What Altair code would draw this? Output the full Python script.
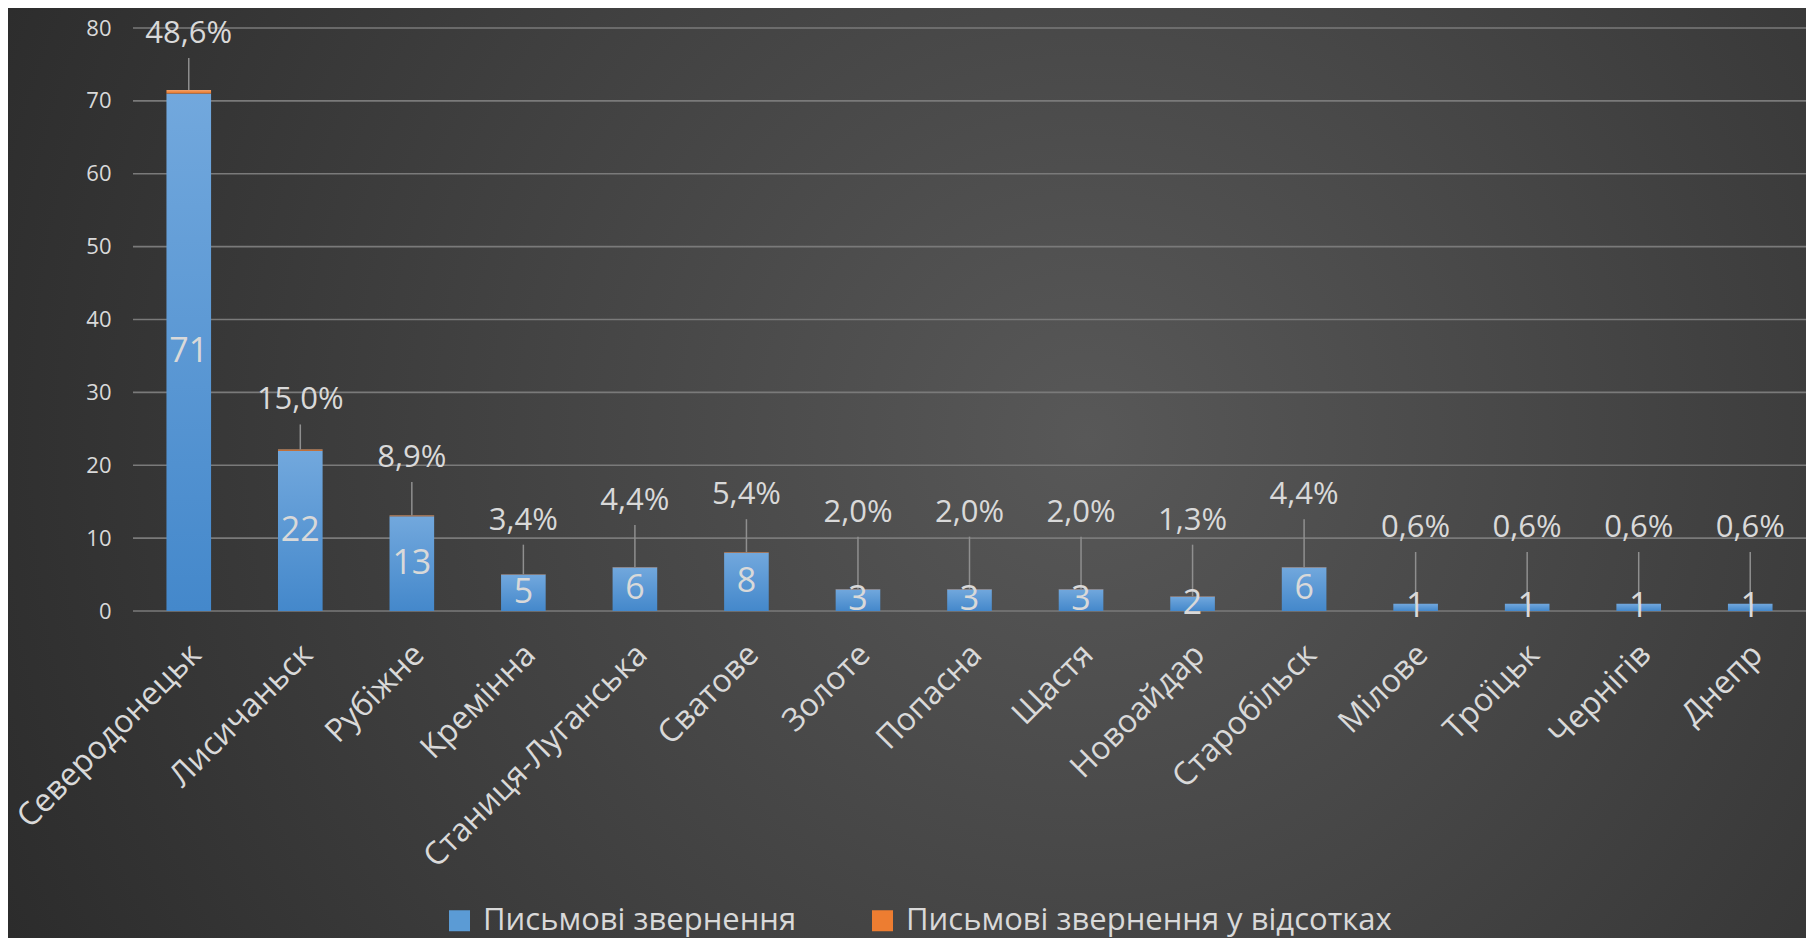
import altair as alt
import pandas as pd

cities = ["Северодонецьк", "Лисичаньск", "Рубіжне", "Кремінна", "Станиця-Луганська",
          "Сватове", "Золоте", "Попасна", "Щастя", "Новоайдар", "Старобільск",
          "Мілове", "Троїцьк", "Чернігів", "Днепр"]
counts = [71, 22, 13, 5, 6, 8, 3, 3, 3, 2, 6, 1, 1, 1, 1]
percents = [48.6, 15.0, 8.9, 3.4, 4.4, 5.4, 2.0, 2.0, 2.0, 1.3, 4.4, 0.6, 0.6, 0.6, 0.6]
# height (in axis units) where each percentage label was placed
pct_label_at = [79.2, 28.9, 21.0, 12.4, 15.1, 15.9, 13.5, 13.5, 13.5, 12.4, 15.9, 11.4, 11.4, 11.4, 11.4]
y_ticks = [0, 10, 20, 30, 40, 50, 60, 70, 80]

series_names = ["Письмові звернення", "Письмові звернення у відсотках"]
series_colors = ["#5b9bd5", "#ed7d31"]

df = pd.DataFrame({"city": cities, "count": counts, "pct": percents, "lab": pct_label_at})
df["frac"] = df["pct"] / 100.0
df["top"] = df["count"] + df["frac"]
df["mid"] = df["count"] / 2.0
df["pct_text"] = df["pct"].map(lambda p: f"{p:.1f}".replace(".", ",") + "%")
df["lead_top"] = df["lab"] - 3.3

W, H = 1673, 583
FONT = "Open Sans"
TXT = "#d9d9d9"

yscale = alt.Scale(domain=[0, 80], nice=False)
xsort = alt.X("city:N", sort=cities)

bg = alt.Chart(pd.DataFrame({"a": [0]})).mark_rect(
    fill=alt.RadialGradient(
        gradient="radial",
        stops=[alt.GradientStop(color="#585858", offset=0),
               alt.GradientStop(color="#262626", offset=1)],
        x1=0.6, y1=0.48, r1=0, x2=0.6, y2=0.48, r2=0.75),
    clip=False
).encode(x=alt.value(-125), x2=alt.value(W), y=alt.value(-20), y2=alt.value(H + 327))

grid = alt.Chart(pd.DataFrame({"v": y_ticks})).mark_rule(
    color="#7a7a7a", strokeWidth=1.6).encode(
    y=alt.Y("v:Q", scale=yscale), x=alt.value(0), x2=alt.value(W))

base = alt.Chart(df)

blue = base.mark_bar(
    fill=alt.LinearGradient(gradient="linear",
                            stops=[alt.GradientStop(color="#72a8dd", offset=0),
                                   alt.GradientStop(color="#4488cb", offset=1)],
                            x1=0, x2=0, y1=0, y2=1)
).encode(
    x=alt.X("city:N", sort=cities, title=None,
            scale=alt.Scale(paddingInner=0.6, paddingOuter=0.3),
            axis=alt.Axis(labelAngle=-45, labelAlign="right", labelBaseline="middle",
                          labelFontSize=32, labelColor=TXT, labelFont=FONT,
                          labelPadding=38, labelOffset=7, labelLimit=1000, ticks=False,
                          domain=False, grid=False, zindex=1)),
    y=alt.Y("count:Q", scale=yscale, title=None,
            axis=alt.Axis(values=y_ticks, labelFontSize=22, labelColor=TXT,
                          labelFont=FONT, labelPadding=22, ticks=False, domain=False,
                          grid=False, zindex=1)),
    y2=alt.value(H),
)

orange = base.mark_bar(
    fill=alt.LinearGradient(gradient="linear",
                            stops=[alt.GradientStop(color="#f4a36b", offset=0),
                                   alt.GradientStop(color="#e8711f", offset=1)],
                            x1=0, x2=0, y1=0, y2=1)
).encode(x=xsort, y=alt.Y("top:Q", scale=yscale), y2="count:Q")

leaders = base.mark_rule(color="#8f8f8f", strokeWidth=1.5).encode(
    x=xsort, y=alt.Y("top:Q", scale=yscale), y2="lead_top:Q")

val_text = base.mark_text(font=FONT, fontSize=34, color=TXT, baseline="middle").encode(
    x=xsort, y=alt.Y("mid:Q", scale=yscale), text="count:Q")

pct_text = base.mark_text(font=FONT, fontSize=31, color=TXT, baseline="middle").encode(
    x=xsort, y=alt.Y("lab:Q", scale=yscale), text="pct_text:N")

legend_layer = alt.Chart(pd.DataFrame({"s": series_names})).mark_square(
    opacity=0, size=1).encode(
    x=alt.value(0), y=alt.value(H),
    color=alt.Color("s:N", scale=alt.Scale(domain=series_names, range=series_colors),
                    legend=alt.Legend(title=None, orient="none", legendX=311, legendY=877,
                                      direction="horizontal", symbolType="square",
                                      symbolSize=441, symbolOpacity=1, symbolStrokeWidth=0,
                                      labelFontSize=31, labelFont=FONT, labelColor=TXT,
                                      labelOffset=8, columnPadding=70, labelLimit=1000)))

chart = alt.layer(bg, grid, blue, orange, leaders, val_text, pct_text, legend_layer).properties(
    width=W, height=H,
    autosize=alt.AutoSizeParams(type="none"),
    padding={"left": 125, "top": 20, "right": 0, "bottom": 327},
    background="#2b2b2b",
).configure_view(stroke=None)

chart.save("out.html", embed_options={"renderer": "svg", "actions": False})
